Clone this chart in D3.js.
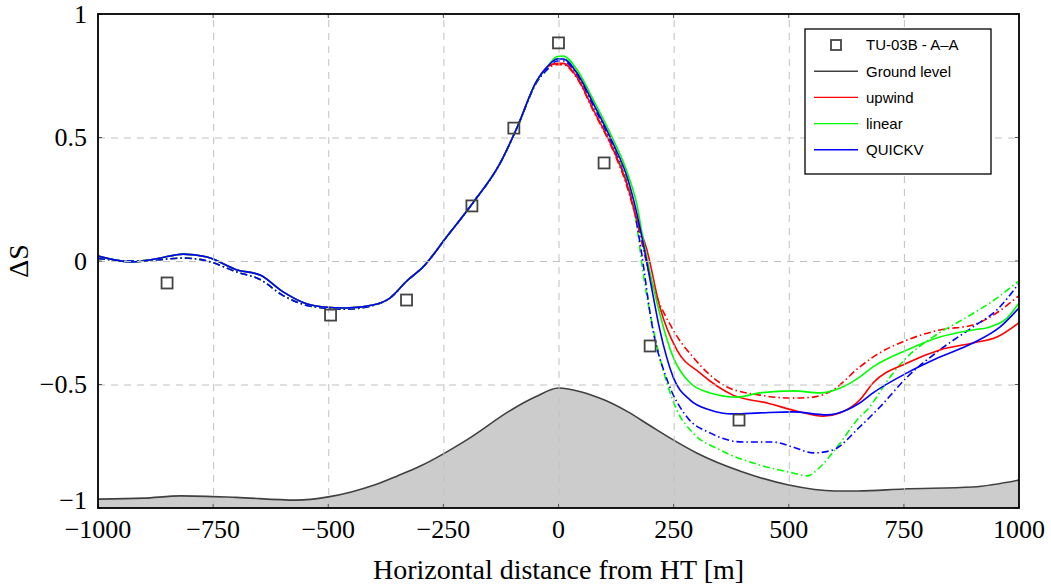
<!DOCTYPE html>
<html>
<head>
<meta charset="utf-8">
<script src="https://cdn.jsdelivr.net/npm/d3@7"></script>
<style>
  body { margin: 0; background: #fff; }
  .tick-label { font-family: "Liberation Serif", "DejaVu Serif", serif; font-size: 26px; fill: #000; }
  .axis-title { font-family: "Liberation Serif", "DejaVu Serif", serif; font-size: 28px; fill: #000; }
  .legend text { font-family: "Liberation Sans", "DejaVu Sans", sans-serif; font-size: 15px; fill: #000; }
</style>
</head>
<body>
<svg id="chart" width="1051" height="588"></svg>
<script>
'use strict';

// axis ticks
var xTicks = [-1000, -750, -500, -250, 0, 250, 500, 750, 1000];
var yTicks = [-1, -0.5, 0, 0.5, 1];

// ground level profile (in dS units)
var groundX = [-1000, -900, -820, -700, -570, -500, -450, -400, -350, -300, -200, -100, -50, 0, 50, 100, 150, 200, 250, 300, 400, 500, 600, 650, 750, 900, 1000];
var groundY = [-0.964, -0.96, -0.951, -0.957, -0.968, -0.955, -0.935, -0.907, -0.87, -0.83, -0.725, -0.6, -0.55, -0.514, -0.53, -0.563, -0.61, -0.668, -0.725, -0.777, -0.854, -0.907, -0.931, -0.931, -0.923, -0.915, -0.887];

// measurements TU-03B
var measX = [-850, -495, -330, -188, -97, 0, 99, 199, 392];
var measY = [-0.089, -0.219, -0.158, 0.223, 0.538, 0.883, 0.397, -0.344, -0.644];

// upwind side, almost identical for every scheme
var leftSolid = [[-1000, 0.02], [-925, -0.004], [-870, 0.01], [-815, 0.028], [-763, 0.016], [-698, -0.036], [-648, -0.057], [-598, -0.125], [-546, -0.174], [-511, -0.186], [-460, -0.19], [-403, -0.178], [-366, -0.15], [-329, -0.08], [-294, -0.024], [-242, 0.1], [-186, 0.235], [-127, 0.395], [-90, 0.54], [-47, 0.73], [-25, 0.785]];
var leftDash = [[-1000, 0.01], [-925, 0.0], [-870, 0.005], [-815, 0.012], [-763, 0.0], [-698, -0.045], [-648, -0.075], [-598, -0.14], [-546, -0.18], [-511, -0.19], [-460, -0.195], [-403, -0.18], [-366, -0.15], [-329, -0.08], [-294, -0.024], [-242, 0.1], [-186, 0.235], [-127, 0.395], [-90, 0.54], [-47, 0.725], [-25, 0.775]];

// peak and lee side
var upwindSolid = [[-3, 0.8], [10, 0.8], [40, 0.745], [75, 0.615], [118, 0.455], [149, 0.31], [170, 0.17], [192, 0.045], [220, -0.186], [257, -0.36], [307, -0.453], [379, -0.543], [453, -0.575], [524, -0.611], [574, -0.628], [611, -0.615], [654, -0.563], [683, -0.494], [757, -0.413], [828, -0.36], [900, -0.332], [952, -0.308], [1000, -0.25]];
var upwindDash = [[-3, 0.795], [10, 0.795], [40, 0.74], [75, 0.61], [118, 0.45], [149, 0.3], [170, 0.16], [199, -0.065], [249, -0.279], [292, -0.389], [366, -0.51], [437, -0.543], [509, -0.555], [553, -0.551], [596, -0.522], [654, -0.429], [683, -0.389], [757, -0.32], [828, -0.279], [900, -0.259], [937, -0.227], [1000, -0.14]];
var linearSolid = [[-3, 0.828], [10, 0.83], [40, 0.775], [75, 0.655], [118, 0.495], [149, 0.36], [170, 0.23], [183, 0.097], [214, -0.17], [249, -0.389], [286, -0.494], [329, -0.534], [388, -0.551], [437, -0.534], [509, -0.526], [568, -0.534], [612, -0.514], [654, -0.47], [683, -0.429], [757, -0.36], [828, -0.308], [900, -0.279], [937, -0.267], [974, -0.231], [1000, -0.17]];
var linearDash = [[-3, 0.82], [10, 0.82], [40, 0.765], [75, 0.64], [118, 0.475], [149, 0.32], [168, 0.17], [183, -0.04], [220, -0.39], [257, -0.603], [292, -0.696], [351, -0.765], [437, -0.826], [509, -0.858], [540, -0.87], [568, -0.834], [605, -0.753], [654, -0.632], [670, -0.603], [720, -0.47], [757, -0.389], [813, -0.308], [887, -0.227], [937, -0.17], [1000, -0.08]];
var quickSolid = [[-3, 0.818], [10, 0.818], [40, 0.761], [75, 0.64], [118, 0.478], [149, 0.34], [170, 0.194], [188, 0.032], [199, -0.077], [220, -0.279], [249, -0.47], [286, -0.563], [329, -0.603], [379, -0.619], [437, -0.615], [509, -0.611], [583, -0.623], [626, -0.603], [654, -0.575], [683, -0.534], [757, -0.453], [828, -0.389], [900, -0.332], [959, -0.267], [1000, -0.19]];
var quickDash = [[-3, 0.81], [10, 0.81], [40, 0.755], [75, 0.63], [118, 0.465], [149, 0.31], [165, 0.2], [177, 0.073], [205, -0.279], [236, -0.482], [279, -0.632], [329, -0.696], [401, -0.733], [466, -0.733], [509, -0.753], [553, -0.777], [596, -0.765], [654, -0.672], [698, -0.591], [757, -0.47], [828, -0.36], [900, -0.267], [952, -0.198], [1000, -0.09]];

var series = [
  { name: 'upwind', color: '#ff0000', dashed: true, pts: leftDash.concat(upwindDash) },
  { name: 'linear', color: '#00ff00', dashed: true, pts: leftDash.concat(linearDash) },
  { name: 'QUICKV', color: '#0000ff', dashed: true, pts: leftDash.concat(quickDash) },
  { name: 'upwind', color: '#ff0000', dashed: false, pts: leftSolid.concat(upwindSolid) },
  { name: 'linear', color: '#00ff00', dashed: false, pts: leftSolid.concat(linearSolid) },
  { name: 'QUICKV', color: '#0000ff', dashed: false, pts: leftSolid.concat(quickSolid) }
];

var margin = { left: 98, top: 14, right: 32, bottom: 80 };
var W = 1051 - margin.left - margin.right;
var H = 588 - margin.top - margin.bottom;

var svg = d3.select('#chart');
var g = svg.append('g').attr('transform', 'translate(' + margin.left + ',' + margin.top + ')');

var x = d3.scaleLinear().domain([-1000, 1000]).range([0, W]);
var y = d3.scaleLinear().domain([-1, 1]).range([H, 0]);

g.append('clipPath').attr('id', 'clip')
  .append('rect').attr('width', W).attr('height', H);

var plot = g.append('g').attr('clip-path', 'url(#clip)');

// ground fill
var ground = groundX.map(function (d, i) { return [d, groundY[i]]; });
plot.append('path')
  .datum(ground)
  .attr('fill', '#cccccc')
  .attr('d', d3.area().x(function (d) { return x(d[0]); }).y0(H).y1(function (d) { return y(d[1]); }).curve(d3.curveMonotoneX));

// grid
var xGrid = d3.axisBottom(x).tickValues(xTicks.slice(1, -1)).tickSize(-H).tickFormat('');
var yGrid = d3.axisLeft(y).tickValues(yTicks.slice(1, -1)).tickSize(-W).tickFormat('');
[g.append('g').attr('transform', 'translate(0,' + H + ')').call(xGrid),
 g.append('g').call(yGrid)].forEach(function (sel) {
  sel.select('.domain').remove();
  sel.selectAll('line').attr('stroke', '#c0c0c0').attr('stroke-width', 1).attr('stroke-dasharray', '7,6');
});

// ground line
plot.append('path')
  .datum(ground)
  .attr('fill', 'none')
  .attr('stroke', '#404040')
  .attr('stroke-width', 1.6)
  .attr('d', d3.line().x(function (d) { return x(d[0]); }).y(function (d) { return y(d[1]); }).curve(d3.curveMonotoneX));

var line = d3.line()
  .x(function (d) { return x(d[0]); })
  .y(function (d) { return y(d[1]); })
  .curve(d3.curveMonotoneX);

plot.selectAll('.series')
  .data(series)
  .enter().append('path')
  .attr('class', 'series')
  .attr('fill', 'none')
  .attr('stroke', function (d) { return d.color; })
  .attr('stroke-width', 1.6)
  .attr('stroke-dasharray', function (d) { return d.dashed ? '7,3,1.5,3' : null; })
  .attr('d', function (d) { return line(d.pts); });

// measurement squares
var meas = measX.map(function (d, i) { return [d, measY[i]]; });
g.selectAll('.meas')
  .data(meas)
  .enter().append('rect')
  .attr('class', 'meas')
  .attr('x', function (d) { return x(d[0]) - 5.5; })
  .attr('y', function (d) { return y(d[1]) - 5.5; })
  .attr('width', 11)
  .attr('height', 11)
  .attr('fill', 'none')
  .attr('stroke', '#444')
  .attr('stroke-width', 1.8);

// small inner ticks
var tickLen = 4;
xTicks.forEach(function (t) {
  g.append('line').attr('x1', x(t)).attr('x2', x(t)).attr('y1', H).attr('y2', H - tickLen).attr('stroke', '#555');
  g.append('line').attr('x1', x(t)).attr('x2', x(t)).attr('y1', 0).attr('y2', tickLen).attr('stroke', '#555');
});
yTicks.forEach(function (t) {
  g.append('line').attr('x1', 0).attr('x2', tickLen).attr('y1', y(t)).attr('y2', y(t)).attr('stroke', '#555');
  g.append('line').attr('x1', W).attr('x2', W - tickLen).attr('y1', y(t)).attr('y2', y(t)).attr('stroke', '#555');
});

// frame
g.append('rect').attr('width', W).attr('height', H)
  .attr('fill', 'none').attr('stroke', '#000').attr('stroke-width', 1.8);

// tick labels
var fmt = d3.format('');
g.selectAll('.xl')
  .data(xTicks)
  .enter().append('text')
  .attr('class', 'tick-label')
  .attr('x', function (d) { return x(d); })
  .attr('y', H + 30)
  .attr('text-anchor', 'middle')
  .text(function (d) { return fmt(d); });

// the -1 label sits a little high so it clears the -1000 label below it
g.selectAll('.yl')
  .data(yTicks)
  .enter().append('text')
  .attr('class', 'tick-label')
  .attr('x', -11)
  .attr('y', function (d) { return d === -1 ? y(d) - 8 : y(d); })
  .attr('dy', '0.33em')
  .attr('text-anchor', 'end')
  .text(function (d) { return fmt(d); });

// axis titles
svg.append('text')
  .attr('class', 'axis-title')
  .attr('x', margin.left + W / 2)
  .attr('y', 579)
  .attr('text-anchor', 'middle')
  .text('Horizontal distance from HT [m]');

svg.append('text')
  .attr('class', 'axis-title')
  .attr('transform', 'translate(28,' + (margin.top + y(0)) + ') rotate(-90)')
  .attr('text-anchor', 'middle')
  .text('ΔS');

// legend
var legendItems = [
  { label: 'TU-03B - A\u2013A', type: 'square' },
  { label: 'Ground level', type: 'line', color: '#404040' },
  { label: 'upwind', type: 'line', color: '#ff0000' },
  { label: 'linear', type: 'line', color: '#00ff00' },
  { label: 'QUICKV', type: 'line', color: '#0000ff' }
];

var legend = svg.append('g').attr('class', 'legend').attr('transform', 'translate(805,29)');
legend.append('rect')
  .attr('width', 186).attr('height', 145)
  .attr('fill', '#fff').attr('stroke', '#000').attr('stroke-width', 1.3);

var rows = legend.selectAll('.row')
  .data(legendItems)
  .enter().append('g')
  .attr('class', 'row')
  .attr('transform', function (d, i) { return 'translate(0,' + (16 + i * 26.2) + ')'; });

rows.filter(function (d) { return d.type === 'square'; })
  .append('rect')
  .attr('x', 26).attr('y', -5).attr('width', 10).attr('height', 10)
  .attr('fill', 'none').attr('stroke', '#444').attr('stroke-width', 1.8);

rows.filter(function (d) { return d.type === 'line'; })
  .append('line')
  .attr('x1', 9).attr('x2', 53).attr('y1', 0).attr('y2', 0)
  .attr('stroke', function (d) { return d.color; })
  .attr('stroke-width', 1.4);

rows.append('text')
  .attr('x', 61)
  .attr('dy', '0.36em')
  .text(function (d) { return d.label; });
</script>
</body>
</html>
